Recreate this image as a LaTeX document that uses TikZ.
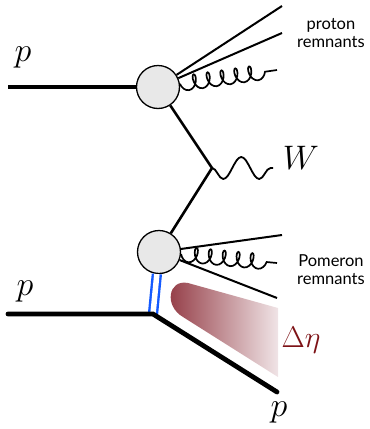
\RequirePackage{fix-cm}
\documentclass[tikz,border=0pt]{standalone}
\usepackage{fontspec}
\newfontfamily\remfont{Lato}
\usetikzlibrary{decorations.pathmorphing,decorations.pathreplacing}
\definecolor{blobgray}{RGB}{232,232,232}
\definecolor{pomblue}{RGB}{20,90,255}
\definecolor{etared}{RGB}{125,18,22}
\definecolor{shadeL}{RGB}{145,55,65}
\definecolor{shadeR}{RGB}{240,228,230}
\begin{document}
\begin{tikzpicture}[x=1pt,y=-1pt,
  blob/.style={circle,draw=black,fill=blobgray,line width=1.3pt,minimum size=43pt,inner sep=0pt},
  beam/.style={line width=4.8pt},
  prop/.style={line width=2.6pt},
  rem/.style={line width=2pt},
  gluon/.style={line width=1.7pt,decorate,decoration={coil,mirror,aspect=0.6,segment length=14pt,amplitude=7.5pt}},
  photon/.style={line width=1.8pt,decorate,decoration={snake,mirror,segment length=36pt,amplitude=11pt}},
  remtext/.style={font=\remfont\fontsize{16.5}{19}\selectfont,align=center,inner sep=0pt},
  mlabel/.style={font=\fontsize{34}{34}\selectfont,inner sep=0pt}
]
\useasboundingbox (0,0) rectangle (370,429);
% coordinates
\coordinate (pin1) at (8,87);
\coordinate (pin2) at (8,314);
\coordinate (v2) at (153,314);
\coordinate (pout) at (277,392);
\coordinate (wv) at (212,168);
\coordinate (wend) at (273,168);
\coordinate (r1a) at (282,6);
\coordinate (r1b) at (282,33);
\coordinate (g1) at (277,70);
\coordinate (r2a) at (282,235);
\coordinate (g2) at (277,263);
\coordinate (r2b) at (277,298);
% shaded rapidity gap
\shade[left color=shadeL,right color=shadeR] (278,308) -- (188,283) .. controls (168,279) and (164,306) .. (183,317) -- (278,377) -- cycle;
% blobs
\node[blob] (b1) at (158,87) {};
\node[blob] (b2) at (159,252) {};
% pomeron exchange
\draw[pomblue,line width=2.4pt,double=white,double distance=5.5pt] (b2) -- (v2);
% beams
\draw[beam] (pin1) -- (b1);
\draw[beam,line cap=round] (pin2) -- (v2) -- (pout);
% internal lines
\draw[prop] (b1) -- (wv) -- (b2);
\draw[photon] (wv) -- (wend);
% remnants
\draw[rem] (b1) -- (r1a);
\draw[rem] (b1) -- (r1b);
\draw[gluon] (b1) -- (g1);
\draw[rem] (b2) -- (r2a);
\draw[gluon] (b2) -- (g2);
\draw[rem] (b2) -- (r2b);
% labels
\node[mlabel] (lp1) at (23,57) {$p$};
\node[mlabel] (lp2) at (25,291) {$p$};
\node[mlabel] (lp3) at (279,412) {$p$};
\node[mlabel] (lw) at (301,158) {$W$};
\node[font=\fontsize{30}{30}\selectfont,text=etared,inner sep=0pt] (leta) at (301,340) {$\Delta\eta$};
\node[remtext] (tprot) at (331,33) {proton\\[-1pt]remnants};
\node[remtext] (tpom) at (331,270) {Pomeron\\[-1pt]remnants};
\end{tikzpicture}
\end{document}
